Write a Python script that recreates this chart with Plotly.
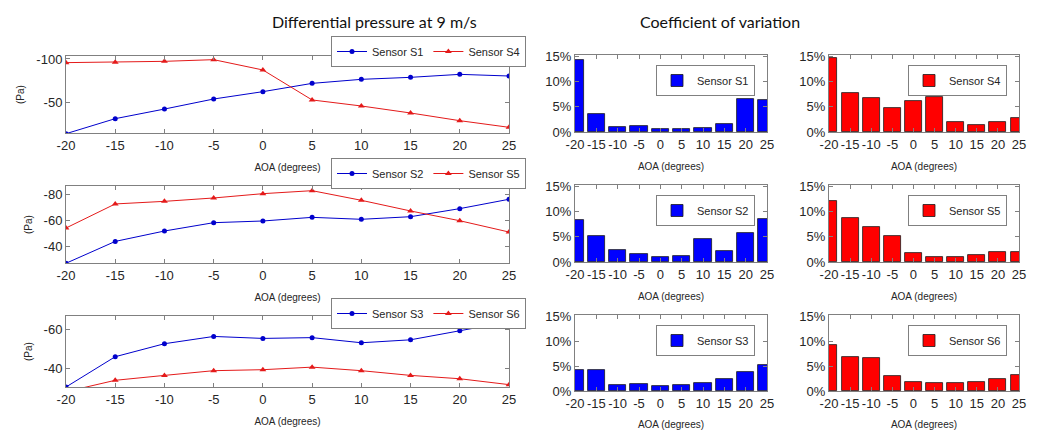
import plotly.graph_objects as go
from plotly.subplots import make_subplots

W, H = 1041, 430

aoa = [-20, -15, -10, -5, 0, 5, 10, 15, 20, 25]
aoa_labels = ["-20", "-15", "-10", "-5", "0", "5", "10", "15", "20", "25"]

# Differential pressure (Pa)
dp_s1 = [-14.5, -31.7, -42.7, -54.2, -62.6, -72.1, -76.7, -79.0, -82.4, -80.5]
dp_s4 = [-95.8, -96.2, -97.3, -99.2, -87.4, -53.1, -46.2, -38.2, -29.4, -21.8]
dp_s2 = [-27.0, -43.8, -51.8, -58.2, -59.5, -62.3, -60.8, -62.8, -69.0, -76.2]
dp_s5 = [-54.1, -72.6, -74.6, -77.2, -80.5, -82.8, -75.4, -67.2, -59.7, -51.0]
dp_s3 = [-30.7, -46.1, -52.7, -56.4, -55.4, -55.8, -53.2, -54.7, -59.3, -63.9]
dp_s6 = [-28.3, -34.1, -36.6, -39.0, -39.5, -40.8, -39.0, -36.6, -34.9, -31.9]

dp1_ticks, dp1_labels = [-100, -50], ["-100", "-50"]
dp2_ticks, dp2_labels = [-80, -60, -40], ["-80", "-60", "-40"]
dp3_ticks, dp3_labels = [-60, -40], ["-60", "-40"]

# Coefficient of variation (%)
cv_s1 = [14.2, 3.5, 1.05, 1.2, 0.65, 0.65, 0.8, 1.6, 6.5, 6.3]
cv_s4 = [14.7, 7.7, 6.7, 4.8, 6.2, 7.0, 2.0, 1.3, 2.0, 2.8]
cv_s2 = [8.3, 5.1, 2.3, 1.5, 1.0, 1.1, 4.6, 2.1, 5.7, 8.5]
cv_s5 = [12.1, 8.7, 7.0, 5.1, 1.8, 1.0, 0.9, 1.3, 2.0, 2.0]
cv_s3 = [4.2, 4.3, 1.3, 1.45, 1.0, 1.3, 1.6, 2.5, 3.8, 5.3]
cv_s6 = [9.3, 6.8, 6.6, 3.1, 1.9, 1.6, 1.6, 1.9, 2.4, 3.2]

cv_ticks = [0, 5, 10, 15]
cv_ticklabels = ["0%", "5%", "10%", "15%"]

BLUE = "#0000CC"
RED = "#E41A1A"
BAR_BLUE = "#0000FF"
BAR_RED = "#FF0000"
AXC = "#808080"
TXT = "#262626"
FONT = "Liberation Sans"
TFONT = "Lato"


def px_x(x):
    return x / W


def px_y(y):
    return 1 - y / H


fig = make_subplots(rows=3, cols=3)

line_rows = [
    (dp_s1, dp_s4, "Sensor S1", "Sensor S4", [-15.3, -103.4], dp1_ticks, dp1_labels, (56, 133), 36),
    (dp_s2, dp_s5, "Sensor S2", "Sensor S5", [-27.2, -86.4], dp2_ticks, dp2_labels, (186, 263), 158),
    (dp_s3, dp_s6, "Sensor S3", "Sensor S6", [-30.7, -66.8], dp3_ticks, dp3_labels, (316, 387), 298),
]
bar_rows = [
    (cv_s1, cv_s4, "Sensor S1", "Sensor S4", (55, 132)),
    (cv_s2, cv_s5, "Sensor S2", "Sensor S5", (185, 262)),
    (cv_s3, cv_s6, "Sensor S3", "Sensor S6", (315, 391)),
]

line_x = (66, 509)
bar_left_x = (575, 767)
bar_right_x = (829, 1019)

legend_layouts = {}
leg_idx = 1


def leg_name(i):
    return "legend" if i == 1 else f"legend{i}"


axis_common = dict(
    showline=True, linecolor=AXC, linewidth=1, mirror="ticks",
    ticks="inside", ticklen=4, tickcolor=AXC, showgrid=False, zeroline=False,
    tickfont=dict(family=FONT, size=13, color=TXT), automargin=False, tickangle=0,
)
title_font = dict(family=FONT, size=10, color=TXT)

for r, (a, b, na, nb, yr, tv, tt, (yt, yb), legtop) in enumerate(line_rows, start=1):
    ln = leg_name(leg_idx)
    fig.add_trace(go.Scatter(x=aoa, y=a, name=na, mode="lines+markers",
                             line=dict(color=BLUE, width=1),
                             marker=dict(symbol="circle", size=5, color=BLUE),
                             legend=ln), row=r, col=1)
    fig.add_trace(go.Scatter(x=aoa, y=b, name=nb, mode="lines+markers",
                             line=dict(color=RED, width=1),
                             marker=dict(symbol="triangle-up", size=6, color=RED),
                             legend=ln), row=r, col=1)
    legend_layouts[ln] = dict(
        orientation="h", x=px_x(526), xanchor="right", y=px_y(legtop), yanchor="top",
        bgcolor="white", bordercolor=AXC, borderwidth=1,
        font=dict(family=FONT, size=11, color=TXT), itemwidth=30,
        tracegroupgap=0, traceorder="normal",
    )
    leg_idx += 1
    n = (r - 1) * 3 + 1
    xa = "xaxis" if n == 1 else f"xaxis{n}"
    ya = "yaxis" if n == 1 else f"yaxis{n}"
    fig.update_layout({
        xa: dict(domain=[px_x(line_x[0]), px_x(line_x[1])], range=[-20, 25],
                 tickvals=aoa, ticktext=aoa_labels,
                 title=dict(text="AOA (degrees)", font=title_font, standoff=12),
                 **axis_common),
        ya: dict(domain=[px_y(yb), px_y(yt)], range=yr, tickvals=tv, ticktext=tt,
                 title=dict(text="(Pa)", font=title_font, standoff=9),
                 **axis_common),
    })

    for c, (vals, nm, col, bx) in enumerate([(bar_rows[r - 1][0], bar_rows[r - 1][2], BAR_BLUE, bar_left_x),
                                             (bar_rows[r - 1][1], bar_rows[r - 1][3], BAR_RED, bar_right_x)], start=2):
        byt, byb = bar_rows[r - 1][4]
        ln = leg_name(leg_idx)
        fig.add_trace(go.Bar(x=aoa, y=vals, name=nm, width=4,
                             marker=dict(color=col, line=dict(color="#1a1a1a", width=0.8)),
                             legend=ln, showlegend=True), row=r, col=c)
        legend_layouts[ln] = dict(
            x=px_x(bx[1] - 12), xanchor="right", y=px_y(byt + 10), yanchor="top",
            bgcolor="white", bordercolor=AXC, borderwidth=1,
            font=dict(family=FONT, size=11, color=TXT),
        )
        leg_idx += 1
        n = (r - 1) * 3 + c
        fig.update_layout({
            f"xaxis{n}": dict(domain=[px_x(bx[0]), px_x(bx[1])], range=[-20, 25],
                              tickvals=aoa, ticktext=aoa_labels,
                              title=dict(text="AOA (degrees)", font=title_font, standoff=12),
                              **axis_common),
            f"yaxis{n}": dict(domain=[px_y(byb), px_y(byt)], range=[0, 15.2],
                              tickvals=cv_ticks, ticktext=cv_ticklabels,
                              **axis_common),
        })

fig.update_layout(**legend_layouts)

fig.add_annotation(text="Differential pressure at 9 m/s", x=px_x(270), y=px_y(22),
                   xref="paper", yref="paper", showarrow=False, yanchor="middle",
                   font=dict(family=TFONT, size=16, color="#111"))
fig.add_annotation(text="Coefficient of variation", x=px_x(802), y=px_y(22),
                   xref="paper", yref="paper", showarrow=False, yanchor="middle",
                   font=dict(family=TFONT, size=16, color="#111"))

fig.update_layout(
    width=W, height=H, margin=dict(l=0, r=0, t=0, b=0, autoexpand=False),
    paper_bgcolor="white", plot_bgcolor="white",
    bargap=0, hovermode=False,
)

fig.write_html("out.html", config={"displayModeBar": False},
               post_script="document.body.style.margin='0';")
